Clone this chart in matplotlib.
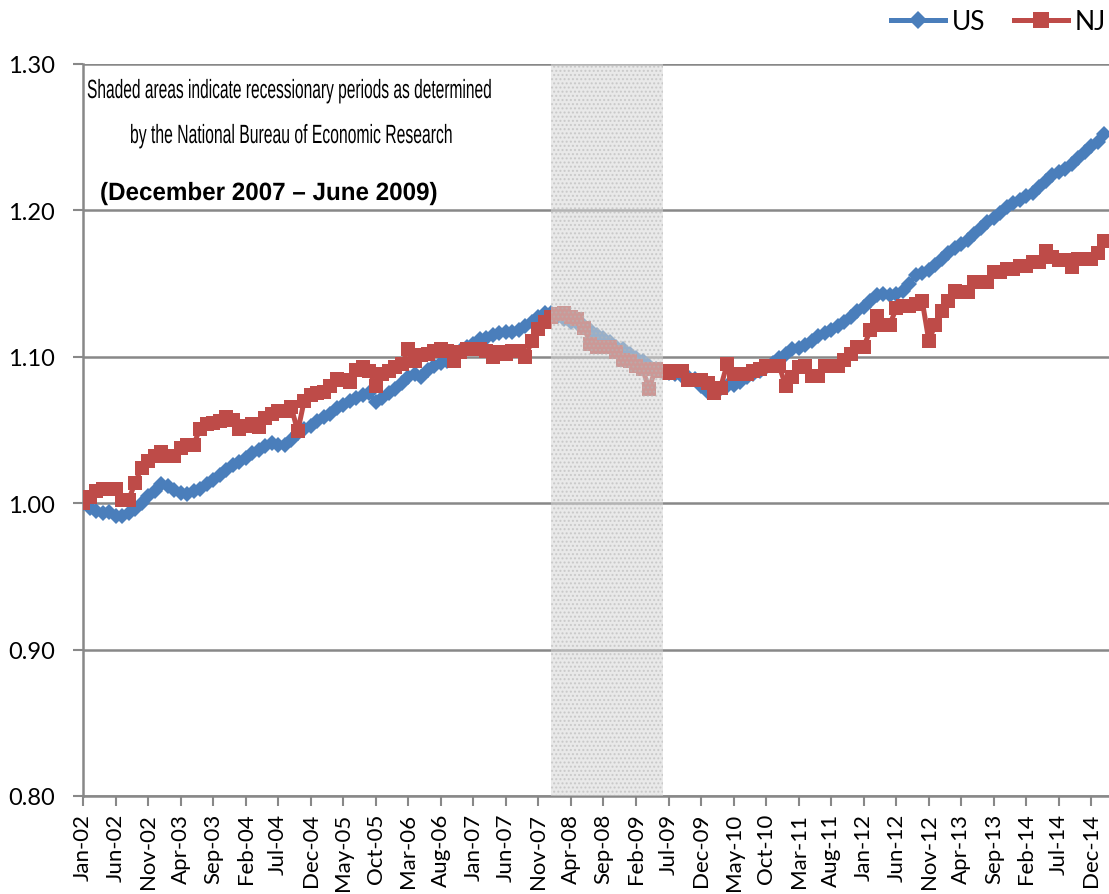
import matplotlib
matplotlib.use("Agg")
import matplotlib.pyplot as plt
from matplotlib.lines import Line2D
from matplotlib.patheffects import AbstractPathEffect
from matplotlib.transforms import Affine2D
import numpy as np
import pandas as pd

# ---------------- data ----------------
months = pd.date_range("2002-01-01", periods=158, freq="MS")
month_labels = [d.strftime("%b-%y") for d in months]

us = [
    1.000, 0.997, 0.995, 0.993, 0.994, 0.991, 0.991, 0.993, 0.996, 1.000,
    1.005, 1.008, 1.013, 1.012, 1.009, 1.007, 1.006, 1.008, 1.010, 1.013,
    1.016, 1.019, 1.023, 1.026, 1.028, 1.031, 1.034, 1.036, 1.039, 1.041,
    1.040, 1.040, 1.043, 1.048, 1.051, 1.053, 1.056, 1.059, 1.061, 1.065,
    1.067, 1.070, 1.072, 1.074, 1.075, 1.069, 1.072, 1.075, 1.078, 1.082,
    1.086, 1.088, 1.086, 1.091, 1.094, 1.096, 1.097, 1.100, 1.104, 1.107,
    1.109, 1.112, 1.113, 1.115, 1.116, 1.117, 1.117, 1.118, 1.121, 1.124,
    1.127, 1.130, 1.130, 1.128, 1.126, 1.124, 1.123, 1.121, 1.118, 1.115,
    1.113, 1.110, 1.107, 1.105, 1.102, 1.099, 1.097, 1.094, 1.092, 1.090,
    1.089, 1.088, 1.087, 1.086, 1.085, 1.080, 1.076, 1.077, 1.079, 1.080,
    1.081, 1.083, 1.086, 1.088, 1.090, 1.093, 1.096, 1.099, 1.102, 1.105,
    1.106, 1.108, 1.111, 1.114, 1.116, 1.118, 1.121, 1.124, 1.127, 1.131,
    1.134, 1.138, 1.142, 1.143, 1.142, 1.143, 1.145, 1.150, 1.156, 1.157,
    1.159, 1.163, 1.167, 1.171, 1.174, 1.177, 1.180, 1.184, 1.188, 1.192,
    1.195, 1.198, 1.202, 1.205, 1.207, 1.210, 1.212, 1.216, 1.220, 1.224,
    1.226, 1.228, 1.232, 1.236, 1.240, 1.244, 1.247, 1.252,
]

nj = [
    1.000, 1.004, 1.008, 1.010, 1.010, 1.010, 1.002, 1.002, 1.014, 1.024,
    1.029, 1.032, 1.035, 1.032, 1.032, 1.038, 1.040, 1.040, 1.051, 1.054,
    1.055, 1.056, 1.059, 1.057, 1.051, 1.053, 1.054, 1.052, 1.058, 1.061,
    1.063, 1.063, 1.066, 1.049, 1.070, 1.074, 1.075, 1.076, 1.080, 1.085,
    1.084, 1.083, 1.091, 1.093, 1.090, 1.080, 1.088, 1.090, 1.093, 1.095,
    1.105, 1.097, 1.101, 1.102, 1.104, 1.105, 1.104, 1.097, 1.103, 1.105,
    1.105, 1.105, 1.104, 1.100, 1.103, 1.102, 1.104, 1.104, 1.100, 1.111,
    1.119, 1.124, 1.127, 1.129, 1.130, 1.127, 1.126, 1.120, 1.109, 1.107,
    1.107, 1.107, 1.103, 1.098, 1.097, 1.094, 1.092, 1.078, 1.092, 1.090,
    1.089, 1.090, 1.090, 1.084, 1.084, 1.084, 1.082, 1.075, 1.079, 1.095,
    1.088, 1.088, 1.088, 1.090, 1.092, 1.094, 1.094, 1.094, 1.080, 1.086,
    1.093, 1.094, 1.087, 1.087, 1.094, 1.094, 1.094, 1.098, 1.102, 1.107,
    1.107, 1.118, 1.128, 1.122, 1.122, 1.133, 1.135, 1.135, 1.136, 1.138,
    1.111, 1.122, 1.131, 1.138, 1.145, 1.144, 1.144, 1.151, 1.151, 1.151,
    1.158, 1.158, 1.160, 1.160, 1.162, 1.162, 1.165, 1.165, 1.172, 1.168,
    1.166, 1.166, 1.161, 1.167, 1.167, 1.167, 1.171, 1.179,
]

recession_start = 72.0   # Dec 2007 (category position)
recession_end = 89.1     # Jun 2009
yticks = [0.80, 0.90, 1.00, 1.10, 1.20, 1.30]
tick_step = 5

note_lines = ["Shaded areas indicate recessionary periods as determined",
              "by the National Bureau of Economic Research"]
note_dates = "(December 2007 \u2013 June 2009)"

# ---------------- style ----------------
plt.rcParams["font.family"] = ["Lato", "DejaVu Sans"]
US_C = "#4a7ebb"
NJ_C = "#be4b48"
GRID_C = "#888888"
W, H = 1109, 895


class HStretch(AbstractPathEffect):
    """Horizontally condense glyphs about the line origin (narrow-font look)."""
    def __init__(self, sx):
        super().__init__()
        self.sx = sx

    def draw_path(self, renderer, gc, tpath, affine, rgbFace=None):
        tx = affine.get_matrix()[0, 2]
        aff = affine + Affine2D().translate(-tx, 0).scale(self.sx, 1).translate(tx, 0)
        renderer.draw_path(gc, tpath, aff, rgbFace)


fig = plt.figure(figsize=(W / 100, H / 100), dpi=100)
ax = fig.add_axes([83 / W, 1 - 797 / H, 1 - 83 / W, (797 - 65) / H])

x = np.arange(len(us))
ax.plot(x, us, color=US_C, lw=3.6, marker="D", markersize=8.5, zorder=3,
        markeredgewidth=0)
ax.plot(x, nj, color=NJ_C, lw=3.6, marker="s", markersize=10.5, zorder=4,
        markeredgewidth=0)

ax.axvspan(recession_start, recession_end, facecolor="#d8d8d8", alpha=0.55,
           edgecolor="#b4b4b4", hatch="....", lw=0, zorder=5)

ax.set_ylim(0.80, 1.30)
ax.set_xlim(0, 157.7)
ax.set_yticks(yticks)
ax.set_yticklabels([f"{v:.2f}" for v in yticks], fontsize=17)
ax.yaxis.grid(True, color=GRID_C, lw=1.8)
ax.set_axisbelow(True)

tick_pos = list(range(0, len(us), tick_step))
ax.set_xticks(tick_pos)
ax.set_xticklabels([month_labels[i] for i in tick_pos], rotation=90,
                   fontsize=16)

for s in ["top", "right"]:
    ax.spines[s].set_visible(False)
for s in ["left", "bottom"]:
    ax.spines[s].set_color(GRID_C)
    ax.spines[s].set_linewidth(1.8)
ax.tick_params(axis="both", colors=GRID_C, labelcolor="black", width=1.5,
               length=7, direction="out")
ax.tick_params(axis="x", pad=5)
ax.tick_params(axis="y", pad=13)

# annotation text (left x px, baseline y px, target width px)
note_specs = [
    (note_lines[0], 87, 99, 405, "normal", 19),
    (note_lines[1], 130, 144, 323, "normal", 19),
    (note_dates, 100, 201, 338, "bold", 18),
]
texts = []
for s, xl, yb, tw, wt, fs in note_specs:
    t = fig.text(xl / W, 1 - yb / H, s, family=["Liberation Sans", "DejaVu Sans"],
                 fontsize=fs, fontweight=wt, ha="left", va="baseline",
                 zorder=6)
    texts.append((t, tw))

fig.canvas.draw()
rend = fig.canvas.get_renderer()
for t, tw in texts:
    w = t.get_window_extent(rend).width
    t.set_path_effects([HStretch(tw / w)])

# legend
handles = [Line2D([], [], color=US_C, lw=3.6, marker="D", markersize=9,
                  markeredgewidth=0),
           Line2D([], [], color=NJ_C, lw=3.6, marker="s", markersize=11,
                  markeredgewidth=0)]
fig.legend(handles, ["US", "NJ"], loc="center right",
           bbox_to_anchor=(1.019, 1 - 23 / H), ncol=2, frameon=False,
           fontsize=19, handlelength=2.05, handletextpad=0.25,
           columnspacing=1.1)

fig.savefig("out.png", dpi=100)
